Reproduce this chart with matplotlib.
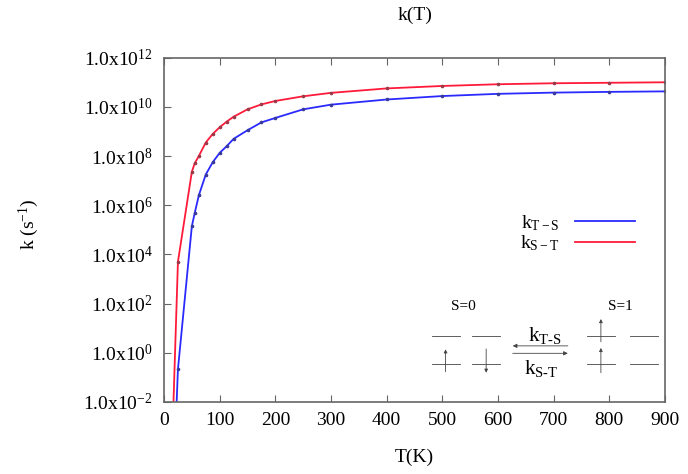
import numpy as np
import matplotlib
matplotlib.use("Agg")
import matplotlib.pyplot as plt
from matplotlib.lines import Line2D

# 字体：类似 gnuplot 的 Times 风格
plt.rcParams['font.family'] = ['Liberation Serif', 'DejaVu Serif']
plt.rcParams['mathtext.fontset'] = 'custom'
plt.rcParams['mathtext.rm'] = 'Liberation Serif'
plt.rcParams['mathtext.it'] = 'Liberation Serif:italic'

# 温度 (K)
T = [12.5, 25, 50, 55, 62.5, 75, 87.5, 100, 112.5, 125, 150, 175, 200,
     250, 300, 400, 500, 600, 700, 800, 900]
# log10(k) 读图估计值
logk_ST = [-5.2, 3.7, 7.36, 7.7, 8.0, 8.55, 8.9, 9.17, 9.4, 9.6, 9.9, 10.1,
           10.24, 10.43, 10.57, 10.75, 10.85, 10.92, 10.96, 10.98, 11.0]
logk_TS = [-7.9, -0.67, 5.15, 5.67, 6.4, 7.25, 7.75, 8.13, 8.4, 8.7, 9.05,
           9.37, 9.55, 9.9, 10.09, 10.3, 10.44, 10.53, 10.58, 10.61, 10.63]

yticks = [1e-2, 1e0, 1e2, 1e4, 1e6, 1e8, 1e10, 1e12]
ytick_labels = [r'1.0x10$^{%d}$' % e for e in [-2, 0, 2, 4, 6, 8, 10, 12]]
xticks = [0, 100, 200, 300, 400, 500, 600, 700, 800, 900]

c_ts = '#2a2aff'
c_st = '#ff1a3a'

fig = plt.figure(figsize=(6.88, 4.74), dpi=100)
ax = fig.add_axes([0.2384, 0.1519, 0.7282, 0.7264])

k_ts = 10 ** np.array(logk_TS)
k_st = 10 ** np.array(logk_ST)
ax.plot(T, k_ts, color=c_ts, lw=1.3, marker='o', ms=1.6, mfc='#3a3a9a', mec='#3a3a9a')
ax.plot(T, k_st, color=c_st, lw=1.3, marker='o', ms=1.6, mfc='#9a3a4a', mec='#9a3a4a')

ax.set_yscale('log')
ax.set_xlim(0, 900)
ax.set_ylim(1e-2, 1e12)
ax.set_yticks(yticks)
ax.set_yticklabels(ytick_labels)
ax.yaxis.set_minor_locator(matplotlib.ticker.NullLocator())
ax.set_xticks(xticks)
ax.tick_params(axis='both', direction='in', labelsize=14, color='#666666',
               length=5, width=0.8)
ax.tick_params(axis='y', pad=8)
ax.tick_params(axis='x', pad=7, top=True)
for s in ax.spines.values():
    s.set_color('#666666')
    s.set_linewidth(1.2)

ax.set_xlabel('T(K)', fontsize=14)
ax.set_ylabel(r'k (s$^{-1}$)', fontsize=14)
ax.xaxis.set_label_coords(0.5, -0.135)
ax.yaxis.set_label_coords(-0.245, 0.515)
ax.text(0.5, 1.124, 'k(T)', transform=ax.transAxes, ha='center', va='center', fontsize=14)

# 图例
handles = [Line2D([], [], color=c_ts, lw=1.3), Line2D([], [], color=c_st, lw=1.3)]
ax.legend(handles, [r'k$_{\mathrm{T-S}}$', r'k$_{\mathrm{S-T}}$'], loc='upper right',
          bbox_to_anchor=(0.975, 0.60), frameon=False, markerfirst=False,
          fontsize=14, handlelength=3.1, labelspacing=0.05, handletextpad=0.8)

# 插图：自旋示意
tr = ax.transAxes
lc = '#444444'
ax.text(0.597, 0.276, 'S=0', transform=tr, ha='center', va='center', fontsize=11)
ax.text(0.910, 0.276, 'S=1', transform=tr, ha='center', va='center', fontsize=11)
for (x0, x1) in [(0.535, 0.591), (0.615, 0.671), (0.844, 0.900), (0.930, 0.986)]:
    for yy in [0.1926, 0.110]:
        ax.plot([x0, x1], [yy, yy], transform=tr, color=lc, lw=0.6)
spins = [(0.562, 0.088, 0.153), (0.643, 0.154, 0.085),
         (0.872, 0.175, 0.241), (0.872, 0.085, 0.157)]
for (xx, y0, y1) in spins:
    ax.annotate('', xy=(xx, y1), xytext=(xx, y0), xycoords=tr, textcoords=tr,
                arrowprops=dict(arrowstyle='-|>', color=lc, lw=0.6,
                                mutation_scale=5, shrinkA=0, shrinkB=0))
ax.annotate('', xy=(0.696, 0.163), xytext=(0.806, 0.163), xycoords=tr, textcoords=tr,
            arrowprops=dict(arrowstyle='-|>', color=lc, lw=0.6, mutation_scale=6,
                            shrinkA=0, shrinkB=0))
ax.annotate('', xy=(0.806, 0.1414), xytext=(0.696, 0.1414), xycoords=tr, textcoords=tr,
            arrowprops=dict(arrowstyle='-|>', color=lc, lw=0.6, mutation_scale=6,
                            shrinkA=0, shrinkB=0))
ax.text(0.760, 0.192, r'k$_{\mathrm{T\text{-}S}}$', transform=tr, ha='center', va='center', fontsize=15)
ax.text(0.752, 0.097, r'k$_{\mathrm{S\text{-}T}}$', transform=tr, ha='center', va='center', fontsize=15)

fig.savefig('out.png', dpi=100)
